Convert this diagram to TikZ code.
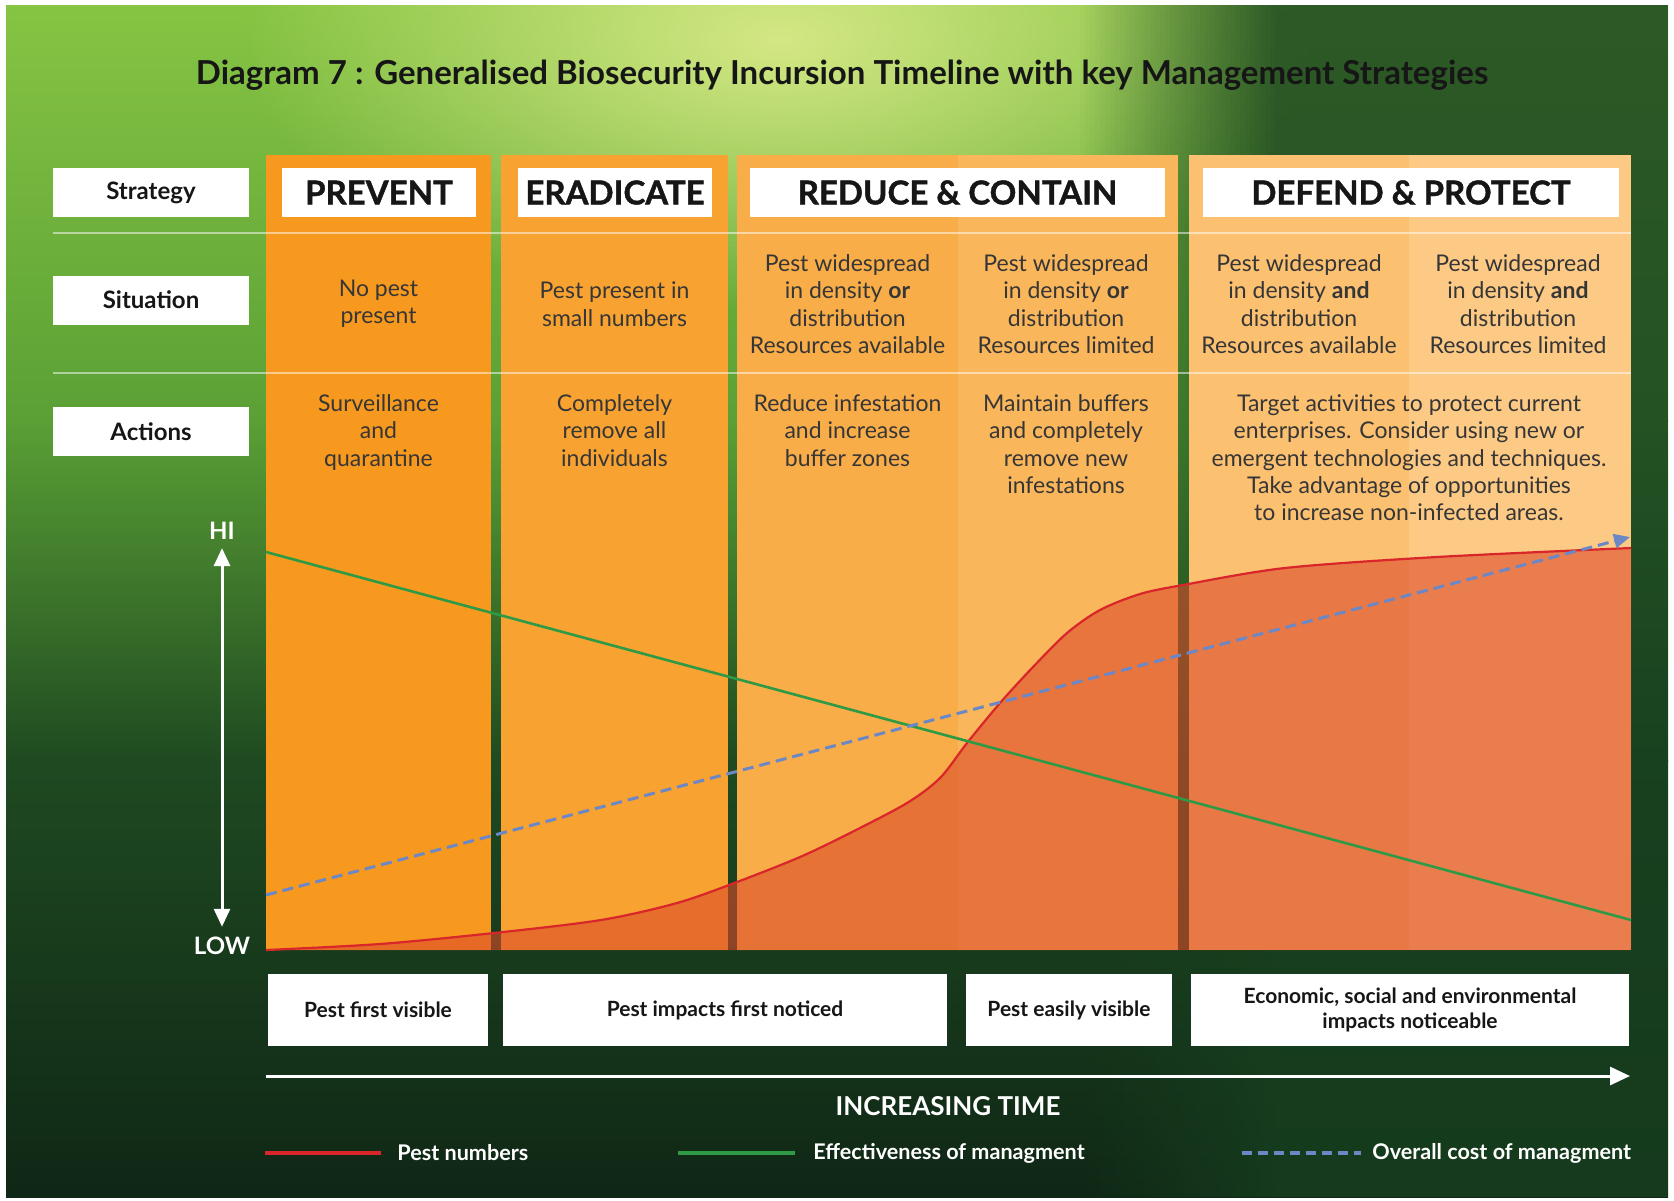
\documentclass[tikz,border=0pt]{standalone}
\usepackage{fontspec}
\setmainfont{Lato}
\newfontfamily\heavyfont{Lato}[BoldFeatures={FakeBold=1.2}]
\usetikzlibrary{positioning,arrows.meta,fadings}

\definecolor{bgA}{HTML}{86C443}
\definecolor{bgB}{HTML}{5AA035}
\definecolor{bgC}{HTML}{1F4A21}
\definecolor{bgD}{HTML}{0F2716}
\definecolor{glow}{HTML}{DDEC8C}
\definecolor{bgdark}{HTML}{173F1F}
\definecolor{pan1}{HTML}{F7991E}
\definecolor{pan2}{HTML}{F8A232}
\definecolor{pan3a}{HTML}{F9AD48}
\definecolor{pan3b}{HTML}{FAB65B}
\definecolor{pan4a}{HTML}{FCC071}
\definecolor{pan4b}{HTML}{FDCA85}
\definecolor{pestfill}{HTML}{DC4B2A}
\definecolor{pestred}{HTML}{D8262A}
\definecolor{effgreen}{HTML}{2F9A45}
\definecolor{costblue}{HTML}{6B87C6}
\definecolor{inkdark}{HTML}{161616}
\definecolor{inkgrey}{HTML}{363636}

\tikzfading[name=softglow, inner color=transparent!0, outer color=transparent!100]

\begin{document}
\begin{tikzpicture}[x=0.5pt, y=-0.5pt,
    rowlabel/.style={fill=white, minimum width=98pt, minimum height=24.5pt, inner sep=0pt, text=inkdark, font=\fontsize{12}{14}\selectfont\bfseries},
    headbox/.style={fill=white, minimum height=24.5pt, inner sep=0pt, text=inkdark, font=\fontsize{16.5}{18}\selectfont\heavyfont\bfseries},
    situtext/.style={align=center, inner sep=0pt, text=inkgrey, font=\fontsize{11.5}{13.7}\selectfont},
    acttext/.style={situtext, anchor=north},
    footbox/.style={fill=white, minimum height=36pt, inner sep=0pt, align=center, text=inkdark, font=\fontsize{10.5}{12.5}\selectfont\bfseries},
    legtext/.style={anchor=west, inner sep=0pt, text=white, font=\fontsize{10.8}{13}\selectfont\bfseries},
    axistext/.style={inner sep=0pt, text=white, font=\fontsize{12}{14}\selectfont\bfseries},]
    % background
    \useasboundingbox (0,0) rectangle (1674,1200);
    \fill[white] (0,0) rectangle (1674,1200);
    \begin{scope}
        \clip (6,5) rectangle (1668,1197);
        \fill[top color=bgA, bottom color=bgB] (6,5) rectangle (1668,421);
        \fill[top color=bgB, bottom color=bgC] (6,420) rectangle (1668,761);
        \fill[top color=bgC, bottom color=bgD] (6,760) rectangle (1668,1197);
        \fill[glow, opacity=0.9, path fading=softglow] (780,40) ellipse [x radius=540, y radius=270];
        \foreach \k [evaluate=\k as \op using 0.02*\k] in {1,...,40}
            \fill[bgdark, opacity=\op] ({1075+5*\k},5) rectangle ({1080+5*\k},1197);
        \fill[bgdark, opacity=0.8] (1280,5) rectangle (1668,1197);
    \end{scope}
    % panels
    \fill[pan1]  (266,155) rectangle (491,950);
    \fill[pan2]  (501,155) rectangle (728,950);
    \fill[pan3a] (737,155) rectangle (958,950);
    \fill[pan3b] (958,155) rectangle (1178,950);
    \fill[pan4a] (1189,155) rectangle (1409,950);
    \fill[pan4b] (1409,155) rectangle (1631,950);
    \draw[white, opacity=0.5, line width=0.8pt] (53,233) -- (1631,233);
    \draw[white, opacity=0.5, line width=0.8pt] (53,373) -- (1631,373);
    % nodes
    \node[font=\fontsize{16.5}{20}\selectfont\bfseries, text=inkdark] (title) at (842,75) {Diagram 7 : Generalised Biosecurity Incursion Timeline with key Management Strategies};
    \node[rowlabel] (strategy)  at (151,192.5) {Strategy};
    \node[rowlabel] (situation) at (151,300)   {Situation};
    \node[rowlabel] (actions)   at (151,431.5) {Actions};
    \node[headbox, minimum width=97pt]    (prevent)   at (379,192.5)  {PREVENT};
    \node[headbox, minimum width=97pt]    (eradicate) at (615,192.5)  {ERADICATE};
    \node[headbox, minimum width=207.5pt] (reduce)    at (957.5,192.5) {REDUCE \& CONTAIN};
    \node[headbox, minimum width=208pt]   (defend)    at (1411,192.5) {DEFEND \& PROTECT};
    \node[situtext] (sit1) at (378.5,304) {No pest\\present};
    \node[situtext] (sit2) at (614.5,304) {Pest present in\\small numbers};
    \node[situtext] (sit3) at (847.5,304) {Pest widespread\\in density \textbf{or}\\distribution\\Resources available};
    \node[situtext] (sit4) at (1066,304)  {Pest widespread\\in density \textbf{or}\\distribution\\Resources limited};
    \node[situtext] (sit5) at (1299,304)  {Pest widespread\\in density \textbf{and}\\distribution\\Resources available};
    \node[situtext] (sit6) at (1518,304)  {Pest widespread\\in density \textbf{and}\\distribution\\Resources limited};
    \node[acttext] (act1) at (378.5,394) {Surveillance\\and\\quarantine};
    \node[acttext] (act2) at (614.5,394) {Completely\\remove all\\individuals};
    \node[acttext] (act3) at (847.5,394) {Reduce infestation\\and increase\\buffer zones};
    \node[acttext] (act4) at (1066,394)  {Maintain buffers\\and completely\\remove new\\infestations};
    \node[acttext] (act5) at (1409,394)  {Target activities to protect current\\enterprises. Consider using new or\\emergent technologies and techniques.\\Take advantage of opportunities\\to increase non-infected areas.};
    % curves
    \fill[pestfill, opacity=0.6] plot[smooth, tension=0.5] coordinates {(266,950) (380,944) (494,933) (601,920) (677,903) (737,882) (800,857) (850,833) (907,803) (940,778) (967,743) (1000,703) (1033,667) (1067,633) (1100,610) (1140,594) (1183,585) (1285,568) (1437,557) (1631,548)} -- (1631,950) -- cycle;
    \draw[pestred, line width=1.1pt] plot[smooth, tension=0.5] coordinates {(266,950) (380,944) (494,933) (601,920) (677,903) (737,882) (800,857) (850,833) (907,803) (940,778) (967,743) (1000,703) (1033,667) (1067,633) (1100,610) (1140,594) (1183,585) (1285,568) (1437,557) (1631,548)};
    \coordinate (effstart)  at (266,552);
    \coordinate (effend)    at (1631,920);
    \coordinate (coststart) at (266,895);
    \coordinate (costend)   at (1630,537);
    \draw[effgreen, line width=1.3pt] (effstart) -- (effend);
    \draw[costblue, line width=1.5pt, dash pattern=on 5.5pt off 3pt, -{Triangle[length=8pt, width=7pt]}] (coststart) -- (costend);
    % axis
    \node[axistext] (hi) at (222,531) {HI};
    \node[axistext] (low) at (222,946) {LOW};
    \draw[white, line width=1.5pt, {Triangle[length=9pt, width=8pt]}-{Triangle[length=9pt, width=8pt]}, shorten <=4pt, shorten >=5pt] (hi.south) -- (low.north);
    % bottom boxes
    \node[footbox, minimum width=110pt] (visible)  at (378,1010)  {Pest first visible};
    \node[footbox, minimum width=222pt] (impacts)  at (725,1010)  {Pest impacts first noticed};
    \node[footbox, minimum width=103pt] (easily)   at (1069,1010) {Pest easily visible};
    \node[footbox, minimum width=219pt] (economic) at (1410,1010) {Economic, social and environmental\\impacts noticeable};
    \coordinate (tstart) at (266,1076);
    \coordinate (tend)   at (1630,1076);
    \draw[white, line width=1.5pt, -{Triangle[length=10pt, width=9pt]}] (tstart) -- (tend);
    \node[axistext, font=\fontsize{13}{15}\selectfont\bfseries] (time) at (948,1106) {INCREASING TIME};
    % legend
    \node[legtext] (legpest) at (397,1153)  {Pest numbers};
    \node[legtext] (legeff)  at (813,1153)  {Effectiveness of managment};
    \node[legtext] (legcost) at (1372,1153) {Overall cost of managment};
    \coordinate (pestkey) at (265,1153);
    \coordinate (effkey)  at (678,1153);
    \coordinate (costkey) at (1242,1153);
    \draw[pestred, line width=2pt] (pestkey) -- ([xshift=-8pt]legpest.west);
    \draw[effgreen, line width=2pt] (effkey) -- ([xshift=-9pt]legeff.west);
    \draw[costblue, line width=2pt, dash pattern=on 5pt off 3pt] (costkey) -- ([xshift=-5.5pt]legcost.west);
\end{tikzpicture}
\end{document}
